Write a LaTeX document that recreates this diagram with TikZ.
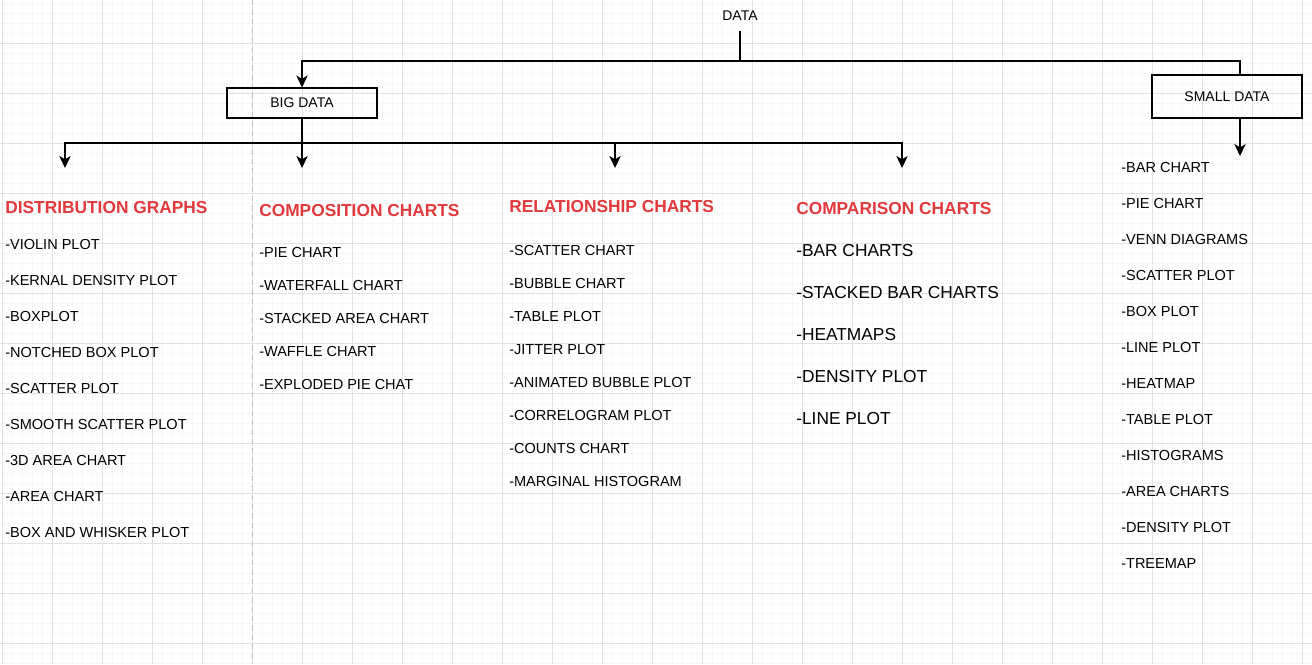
\documentclass[tikz,border=0pt]{standalone}
\usepackage{fontspec}
\setmainfont{Liberation Sans}
\usetikzlibrary{arrows.meta}

\definecolor{headred}{RGB}{226,58,60}
\definecolor{minorgray}{RGB}{247,247,247}
\definecolor{majorgray}{RGB}{226,226,226}
\definecolor{dashgray}{RGB}{190,190,190}

\tikzset{
  item/.style={anchor=west, inner sep=0pt, font=\fontsize{10.9}{13}\selectfont},
  bigitem/.style={anchor=west, inner sep=0pt, font=\fontsize{13}{15}\selectfont},
  heading/.style={anchor=west, inner sep=0pt, text=headred, font=\bfseries\fontsize{13}{15}\selectfont},
  databox/.style={draw, line width=0.8pt, minimum width=112.5pt, font=\fontsize{10.5}{12}\selectfont},
  conn/.style={line width=1.1pt},
  tip/.style={-{Stealth[length=9pt,width=8.5pt,inset=2.5pt]}}
}

\begin{document}
\begin{tikzpicture}[x=0.75pt, y=-0.75pt]
    \useasboundingbox[fill=white] (0,0) rectangle (1312,664);

    % grid
    \foreach \gx in {2.5,12.5,...,1312} \draw[minorgray, line width=0.5pt] (\gx,0) -- (\gx,664);
    \foreach \gy in {3,13,...,664} \draw[minorgray, line width=0.5pt] (0,\gy) -- (1312,\gy);
    \foreach \gx in {2.5,52.5,...,1312} \draw[majorgray, line width=0.6pt] (\gx,0) -- (\gx,664);
    \foreach \gy in {43,93,...,664} \draw[majorgray, line width=0.6pt] (0,\gy) -- (1312,\gy);
    \draw[dashgray, line width=0.6pt, dash pattern=on 4pt off 3pt] (252.5,0) -- (252.5,664);

    % tree
    \node[inner sep=0pt, font=\fontsize{10.5}{12}\selectfont] (data) at (740,16) {DATA};
    \node[databox, minimum height=22.5pt] (bigbox) at (302,103) {BIG DATA};
    \node[databox, minimum height=32.25pt] (smallbox) at (1227,96.5) {SMALL DATA};

    \coordinate (topjoin) at (740,61);
    \coordinate (midjoin) at (302,143);
    \coordinate (distarrow) at (65,168);
    \coordinate (comparrow) at (302,168);
    \coordinate (relarrow) at (615,168);
    \coordinate (cmparrow) at (902,168);
    \coordinate (smallarrow) at (1240,156);

    \draw[conn] (data.south) ++(0,10) -- (topjoin);
    \draw[conn, tip] (topjoin) -| (bigbox.north);
    \draw[conn] (topjoin) -| (smallarrow |- smallbox.north);
    \draw[conn, tip] (bigbox.south) -- (midjoin) -- (comparrow);
    \draw[conn, tip] (midjoin) -| (distarrow);
    \draw[conn, tip] (midjoin) -| (relarrow);
    \draw[conn, tip] (midjoin) -| (cmparrow);
    \draw[conn, tip] (smallarrow |- smallbox.south) -- (smallarrow);

    % distribution graphs
    \node[heading] (disthead) at (5,208) {DISTRIBUTION GRAPHS};
    \node[item] (dist1) at (5,244) {-VIOLIN PLOT};
    \node[item] (dist2) at (5,280) {-KERNAL DENSITY PLOT};
    \node[item] (dist3) at (5,316) {-BOXPLOT};
    \node[item] (dist4) at (5,352) {-NOTCHED BOX PLOT};
    \node[item] (dist5) at (5,388) {-SCATTER PLOT};
    \node[item] (dist6) at (5,424) {-SMOOTH SCATTER PLOT};
    \node[item] (dist7) at (5,460) {-3D AREA CHART};
    \node[item] (dist8) at (5,496) {-AREA CHART};
    \node[item] (dist9) at (5,532) {-BOX AND WHISKER PLOT};

    % composition charts
    \node[heading] (comphead) at (259,211) {COMPOSITION CHARTS};
    \node[item] (comp1) at (259,252) {-PIE CHART};
    \node[item] (comp2) at (259,285) {-WATERFALL CHART};
    \node[item] (comp3) at (259,318) {-STACKED AREA CHART};
    \node[item] (comp4) at (259,351) {-WAFFLE CHART};
    \node[item] (comp5) at (259,384) {-EXPLODED PIE CHAT};

    % relationship charts
    \node[heading] (relhead) at (509,207) {RELATIONSHIP CHARTS};
    \node[item] (rel1) at (509,250) {-SCATTER CHART};
    \node[item] (rel2) at (509,283) {-BUBBLE CHART};
    \node[item] (rel3) at (509,316) {-TABLE PLOT};
    \node[item] (rel4) at (509,349) {-JITTER PLOT};
    \node[item] (rel5) at (509,382) {-ANIMATED BUBBLE PLOT};
    \node[item] (rel6) at (509,415) {-CORRELOGRAM PLOT};
    \node[item] (rel7) at (509,448) {-COUNTS CHART};
    \node[item] (rel8) at (509,481) {-MARGINAL HISTOGRAM};

    % comparison charts
    \node[heading] (cmphead) at (796,209) {COMPARISON CHARTS};
    \node[bigitem] (cmp1) at (796,251) {-BAR CHARTS};
    \node[bigitem] (cmp2) at (796,293) {-STACKED BAR CHARTS};
    \node[bigitem] (cmp3) at (796,335) {-HEATMAPS};
    \node[bigitem] (cmp4) at (796,377) {-DENSITY PLOT};
    \node[bigitem] (cmp5) at (796,419) {-LINE PLOT};

    % small data
    \node[item] (small1) at (1121,167) {-BAR CHART};
    \node[item] (small2) at (1121,203) {-PIE CHART};
    \node[item] (small3) at (1121,239) {-VENN DIAGRAMS};
    \node[item] (small4) at (1121,275) {-SCATTER PLOT};
    \node[item] (small5) at (1121,311) {-BOX PLOT};
    \node[item] (small6) at (1121,347) {-LINE PLOT};
    \node[item] (small7) at (1121,383) {-HEATMAP};
    \node[item] (small8) at (1121,419) {-TABLE PLOT};
    \node[item] (small9) at (1121,455) {-HISTOGRAMS};
    \node[item] (small10) at (1121,491) {-AREA CHARTS};
    \node[item] (small11) at (1121,527) {-DENSITY PLOT};
    \node[item] (small12) at (1121,563) {-TREEMAP};

\end{tikzpicture}
\end{document}
